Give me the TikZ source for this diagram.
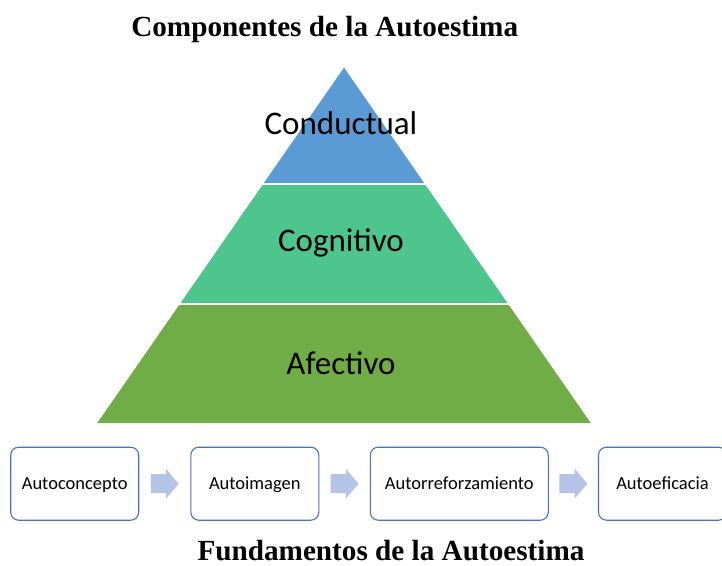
\documentclass[tikz,border=0pt]{standalone}
\usepackage{fontspec}
\setmainfont{Liberation Serif}
\newfontfamily\calibri{Carlito}
\usetikzlibrary{calc}

\definecolor{topblue}{HTML}{5B9BD5}
\definecolor{midgreen}{HTML}{4FC58E}
\definecolor{lowgreen}{HTML}{70AD47}
\definecolor{boxblue}{HTML}{4472C4}
\definecolor{arrowblue}{HTML}{B4C3E6}

\tikzset{
	layer/.style={draw=white, line width=1.2pt},
	layertext/.style={font=\calibri\fontsize{33}{36}\selectfont, text=black},
	title/.style={font=\bfseries\fontsize{29.2}{32}\selectfont, anchor=base, inner sep=0pt},
	stagebox/.style={draw=boxblue, line width=1.1pt, rounded corners=8pt, minimum height=73pt, inner sep=0pt, text height=11.9pt, text depth=0pt, font=\calibri\fontsize{18.5}{22}\selectfont},
	stagearrow/.style={fill=arrowblue, draw=none}
}

\begin{document}
\begin{tikzpicture}[x=1pt, y=-1pt]
			%%%%% START %%%%%
			\useasboundingbox (0, 0) rectangle (722, 565);
			
			\node[title] (comptitle) at (324.7, 36.5) {Componentes de la Autoestima};
			
			% pyramid layers
			\fill[layer, fill=lowgreen] (95.5, 424) -- (592.5, 424) -- (509.2, 304) -- (178.8, 304) -- cycle;
			\fill[layer, fill=midgreen] (178.8, 304) -- (509.2, 304) -- (425.9, 184) -- (262.1, 184) -- cycle;
			\fill[layer, fill=topblue] (262.1, 184) -- (425.9, 184) -- (344, 66) -- cycle;
			\draw[layer] (95.5, 424) -- (592.5, 424) -- (344, 66) -- cycle;
			\draw[layer] (178.8, 304) -- (509.2, 304);
			\draw[layer] (262.1, 184) -- (425.9, 184);
			
			\node[layertext] (conductual) at (341, 123) {Conductual};
			\node[layertext] (cognitivo) at (341, 243) {Cognitivo};
			\node[layertext] (afectivo) at (341, 363) {Afectivo};
			
			% stages
			\node[stagebox, minimum width=128pt] (autoconcepto) at (74.7, 483.7) {Autoconcepto};
			\node[stagebox, minimum width=128pt] (autoimagen) at (254.8, 483.7) {Autoimagen};
			\node[stagebox, minimum width=178pt] (autorrefuerzo) at (459.3, 483.7) {Autorreforzamiento};
			\node[stagebox, minimum width=128pt] (autoeficacia) at (662.5, 483.7) {Autoeficacia};
			
			\coordinate (arrowone) at ($(autoconcepto.east)!0.5!(autoimagen.west)$);
			\coordinate (arrowtwo) at ($(autoimagen.east)!0.5!(autorrefuerzo.west)$);
			\coordinate (arrowthree) at ($(autorrefuerzo.east)!0.5!(autoeficacia.west)$);
			\foreach \a in {arrowone, arrowtwo, arrowthree}
				\fill[stagearrow, shift={(\a)}] (-14, -9.5) -- (1.2, -9.5) -- (1.2, -15) -- (14, 0) -- (1.2, 15) -- (1.2, 9.5) -- (-14, 9.5) -- cycle;
			
			\node[title] (fundtitle) at (391, 560) {Fundamentos de la Autoestima};
			
			%%%%% END %%%%%
\end{tikzpicture}
\end{document}
